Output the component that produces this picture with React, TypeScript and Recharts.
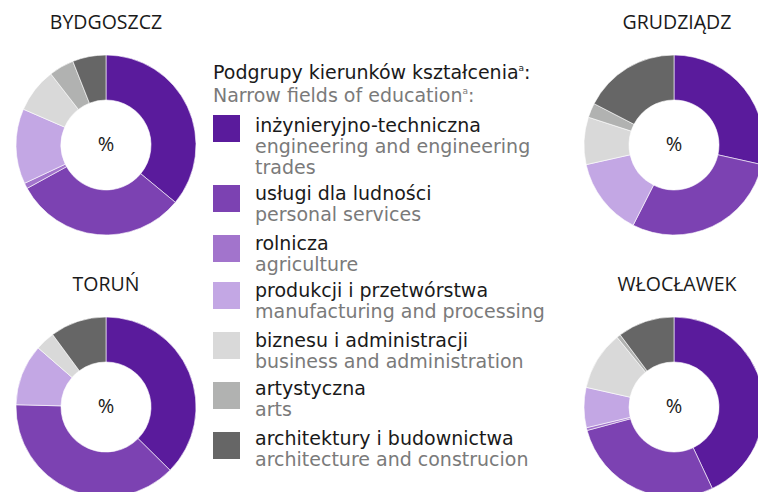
import React from "react";
import { PieChart, Pie, Cell } from "recharts";

const categoriesPl = [
  "inżynieryjno-techniczna",
  "usługi dla ludności",
  "rolnicza",
  "produkcji i przetwórstwa",
  "biznesu i administracji",
  "artystyczna",
  "architektury i budownictwa",
];
const categoriesEn = [
  "engineering and engineering trades",
  "personal services",
  "agriculture",
  "manufacturing and processing",
  "business and administration",
  "arts",
  "architecture and construcion",
];
const COLORS = ["#5a1b9c", "#7c42b2", "#a274cc", "#c3a7e4", "#d9d9d9", "#b1b2b1", "#666666"];

const bydgoszcz = [36, 31, 1, 13.5, 8, 4.5, 6];
const grudziadz = [28.5, 29, 0, 14, 8.5, 2.6, 17.4];
const torun = [37.4, 38, 0, 11, 3.5, 0, 10.1];
const wloclawek = [43, 27.8, 0.5, 7.2, 10.6, 0.7, 10.2];

const cities = [
  { name: "BYDGOSZCZ", values: bydgoszcz, cx: 106, cy: 145 },
  { name: "GRUDZIĄDZ", values: grudziadz, cx: 674, cy: 145 },
  { name: "TORUŃ", values: torun, cx: 106, cy: 407 },
  { name: "WŁOCŁAWEK", values: wloclawek, cx: 674, cy: 407 },
];

const FONT = "'DejaVu Sans', sans-serif";
const TITLE_FONT = "'Open Sans', sans-serif";

export default function App() {
  const legendTops = [114, 182, 232, 279, 329, 377, 427];
  return (
    <div style={{ position: "fixed", left: 0, top: 0, width: 758, height: 492, background: "#fff", fontFamily: FONT, overflow: "hidden" }}>
      <PieChart width={758} height={492} margin={{ top: 0, right: 0, bottom: 0, left: 0 }}>
        {cities.map((c) => (
          <Pie
            key={c.name}
            data={c.values.map((v, i) => ({ name: categoriesPl[i], value: v }))}
            dataKey="value"
            cx={c.cx}
            cy={c.cy}
            innerRadius={45}
            outerRadius={90}
            startAngle={90}
            endAngle={-270}
            stroke="#fff"
            strokeWidth={0.6}
            isAnimationActive={false}
          >
            {c.values.map((_, i) => (
              <Cell key={i} fill={COLORS[i]} />
            ))}
          </Pie>
        ))}
      </PieChart>
      {cities.map((c) => (
        <React.Fragment key={c.name}>
          <div style={{ position: "absolute", left: c.cx - 100 + (c.cx > 400 ? 3 : 0), width: 200, top: c.cy - 135, textAlign: "center", fontSize: 19.5, fontFamily: TITLE_FONT, color: "#1a1a1a", lineHeight: "24px" }}>
            {c.name}
          </div>
          <div style={{ position: "absolute", left: c.cx - 30, width: 60, top: c.cy - 13, textAlign: "center", fontSize: 20, fontFamily: TITLE_FONT, color: "#1a1a1a", lineHeight: "24px" }}>
            %
          </div>
        </React.Fragment>
      ))}
      <div style={{ position: "absolute", left: 213, top: 57, fontSize: 19, lineHeight: "23px", color: "#1a1a1a", whiteSpace: "nowrap" }}>
        <div style={{ height: 23 }}>
          Podgrupy kierunków kształcenia<sup style={{ fontSize: 9, verticalAlign: 8 }}>a</sup>:
        </div>
        <div style={{ color: "#7a7a7a", height: 23 }}>
          Narrow fields of education<sup style={{ fontSize: 9, verticalAlign: 8 }}>a</sup>:
        </div>
      </div>
      {categoriesPl.map((pl, i) => (
        <React.Fragment key={pl}>
          <div style={{ position: "absolute", left: 213, top: [115, 185, 235, 282, 332, 382, 432][i], width: 27, height: 27, background: COLORS[i] }} />
          <div style={{ position: "absolute", left: 255, top: legendTops[i], width: 300, fontSize: 19, lineHeight: "22px" }}>
            <div style={{ color: "#1a1a1a" }}>{pl}</div>
            <div style={{ color: "#7a7a7a", lineHeight: "21px" }}>{categoriesEn[i]}</div>
          </div>
        </React.Fragment>
      ))}
    </div>
  );
}
